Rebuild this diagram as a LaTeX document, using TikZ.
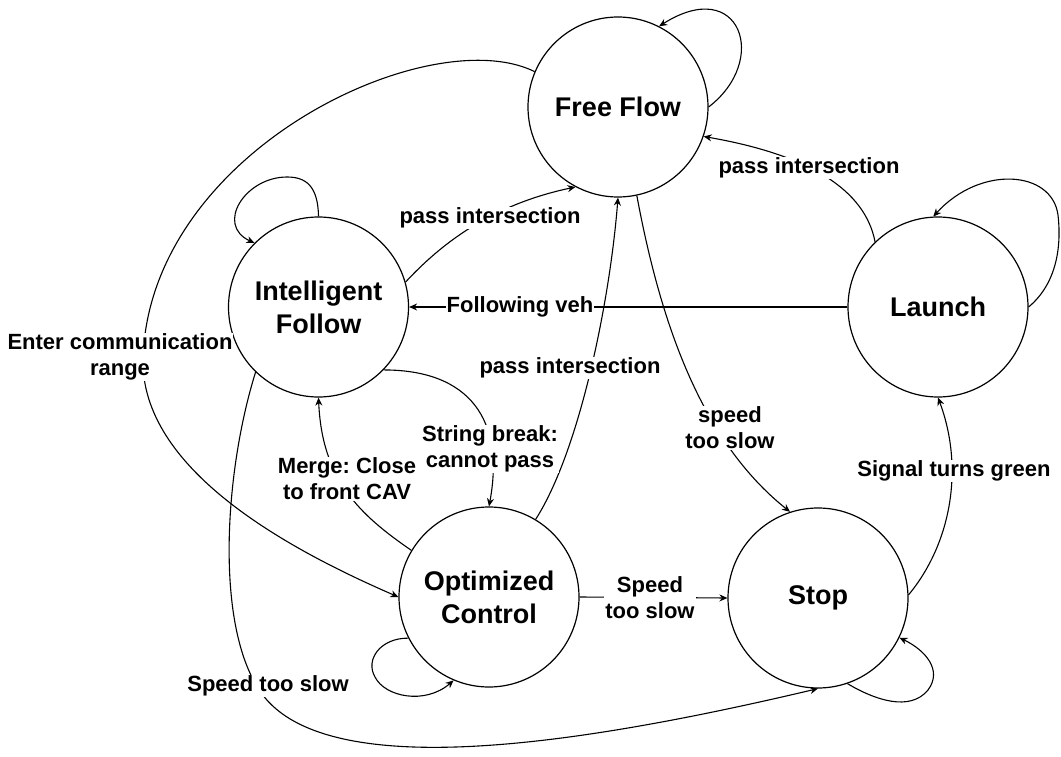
\documentclass[tikz,border=0pt]{standalone}
\usepackage{fontspec}
\setmainfont{Liberation Sans}
\usetikzlibrary{arrows.meta}
\frenchspacing
\begin{document}
\begin{tikzpicture}[x=1pt,y=-1pt,
  state/.style={draw, circle, line width=1.2pt, minimum size=180pt, inner sep=0pt,
    align=center, font=\fontsize{27}{33}\selectfont\bfseries},
  edge/.style={line width=1.1pt, -{Stealth[length=8pt,width=7pt]}},
  lbl/.style={fill=white, inner sep=1pt, align=center,
    font=\fontsize{22}{26}\selectfont\bfseries}]
\useasboundingbox (0,0) rectangle (1061,757);

% states
\node[state] (ff)  at (618,107) {Free Flow};
\node[state] (if)  at (318.5,307) {Intelligent\\Follow};
\node[state] (la)  at (938,307) {Launch};
\node[state] (oc)  at (489,597) {Optimized\\Control};
\node[state] (st)  at (818,598) {Stop};

% self loops
\draw[edge] (ff.0) .. controls (770,60) and (740,-25) .. (ff.63);
\draw[edge] (if.90) .. controls (318,185) and (305,177) .. (287,177)
            .. controls (245,177) and (215,225) .. (if.135);
\draw[edge] (la.0) .. controls (1055,285) and (1062,250) .. (1058,215)
            .. controls (1052,170) and (980,165) .. (la.93);
\draw[edge] (st.289) .. controls (875,700) and (910,712) .. (928,690)
            .. controls (943,670) and (925,650) .. (st.334);
\draw[edge] (oc.207) .. controls (380,638) and (365,660) .. (375,677)
            .. controls (385,697) and (425,705) .. (oc.247);

% transitions
\draw[edge] (if.16) .. controls (440,245) and (490,205) .. (ff.242);
\draw[edge] (la.180) -- (if.0);
\draw[edge] (la.134) .. controls (865,190) and (810,155) .. (ff.341);
\draw[edge] (ff.282) .. controls (660,320) and (700,440) .. (st.108);
\draw[edge] (oc.59) .. controls (580,450) and (610,300) .. (ff.270);
\draw[edge] (if.316) .. controls (470,370) and (505,420) .. (oc.90);
\draw[edge] (oc.149) .. controls (360,515) and (322,480) .. (if.270);
\draw[edge] (ff.157) .. controls (430,20) and (150,150) .. (143,358)
            .. controls (140,470) and (290,550) .. (oc.180);
\draw[edge] (oc.0) -- (st.180);
\draw[edge] (st.2) .. controls (950,545) and (965,470) .. (la.270);
\draw[edge] (if.226) .. controls (225,470) and (215,620) .. (258,688)
            .. controls (320,790) and (600,740) .. (st.270);

% transition labels
\node[lbl] (l1)  at (490,218) {pass intersection};
\node[lbl] (l2)  at (520,307) {Following veh};
\node[lbl] (l3)  at (809,168) {pass intersection};
\node[lbl] (l4)  at (730,428) {speed\\too slow};
\node[lbl] (l5)  at (570,368) {pass intersection};
\node[lbl] (l6)  at (490,449) {String break:\\cannot pass};
\node[lbl] (l7)  at (347,479) {Merge: Close\\to front CAV};
\node[lbl] (l8)  at (120,357) {Enter communication\\range};
\node[lbl] (l9)  at (650,598) {Speed\\too slow};
\node[lbl] (l10) at (954,471) {Signal turns green};
\node[lbl] (l11) at (268,686) {Speed too slow};
\end{tikzpicture}
\end{document}
